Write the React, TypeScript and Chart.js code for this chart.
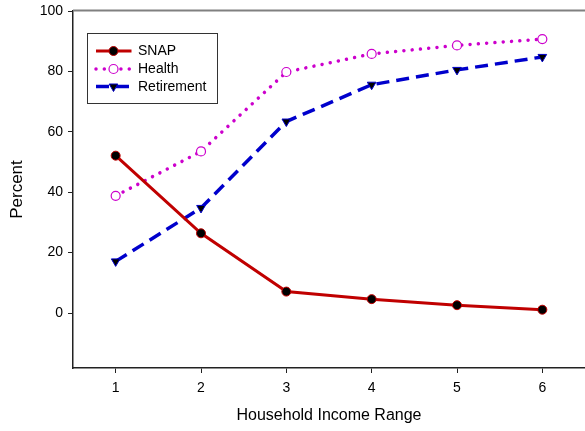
import React, { useEffect, useRef } from 'react';
import { Chart, registerables } from 'chart.js';

Chart.register(...registerables);

const incomeRange = [1, 2, 3, 4, 5, 6];
const snap = [52.1, 26.4, 7.1, 4.6, 2.6, 1.1];
const health = [38.8, 53.5, 79.8, 85.8, 88.6, 90.7];
const retirement = [17.1, 34.8, 63.4, 75.6, 80.5, 84.8];
const yTicks = [0, 20, 40, 60, 80, 100];
const seriesNames = ['SNAP', 'Health', 'Retirement'];
const xTitle = 'Household Income Range';
const yTitle = 'Percent';

const FONT = '"Liberation Sans", Arial, sans-serif';
const RED = '#c00000';
const MAGENTA = '#cc00cc';
const BLUE = '#0000cc';

function drawTriangleDown(ctx: CanvasRenderingContext2D, x: number, y: number, r: number, fill: string, stroke: string) {
  ctx.beginPath();
  for (let i = 0; i < 3; i++) {
    const a = Math.PI + (i * 2 * Math.PI) / 3;
    const px = x + Math.sin(a) * r;
    const py = y - Math.cos(a) * r;
    if (i === 0) ctx.moveTo(px, py);
    else ctx.lineTo(px, py);
  }
  ctx.closePath();
  ctx.fillStyle = fill;
  ctx.fill();
  ctx.lineWidth = 1;
  ctx.strokeStyle = stroke;
  ctx.stroke();
}

const framePlugin = {
  id: 'frameAndLegend',
  afterDraw(chart: any) {
    const { ctx, chartArea } = chart;
    ctx.save();
    // top frame line
    ctx.beginPath();
    ctx.strokeStyle = '#808080';
    ctx.lineWidth = 2;
    ctx.moveTo(chartArea.left, chartArea.top - 0.5);
    ctx.lineTo(chartArea.right, chartArea.top - 0.5);
    ctx.stroke();

    // legend box
    const bx = 87, by = 33, bw = 130, bh = 70;
    ctx.fillStyle = '#fff';
    ctx.fillRect(bx, by, bw, bh);
    ctx.strokeStyle = '#333';
    ctx.lineWidth = 1;
    ctx.strokeRect(bx + 0.5, by + 0.5, bw, bh);

    const rows = [51, 69, 86.5];
    const x0 = 96, x1 = 131.5, xm = 113.5;
    ctx.font = '14px ' + FONT;
    ctx.textBaseline = 'middle';
    ctx.textAlign = 'left';
    seriesNames.forEach((name, i) => {
      const y = rows[i];
      ctx.beginPath();
      if (i === 0) {
        ctx.setLineDash([]);
        ctx.lineCap = 'butt';
        ctx.lineWidth = 3;
        ctx.strokeStyle = RED;
      } else if (i === 1) {
        ctx.setLineDash([0.01, 8.3]);
        ctx.lineCap = 'round';
        ctx.lineWidth = 3.5;
        ctx.strokeStyle = MAGENTA;
      } else {
        ctx.setLineDash([13, 7]);
        ctx.lineCap = 'butt';
        ctx.lineWidth = 3.5;
        ctx.strokeStyle = BLUE;
      }
      ctx.moveTo(x0, y);
      ctx.lineTo(x1, y);
      ctx.stroke();
      ctx.setLineDash([]);
      if (i === 0) {
        ctx.beginPath();
        ctx.arc(xm, y, 4.5, 0, Math.PI * 2);
        ctx.fillStyle = '#000';
        ctx.fill();
        ctx.lineWidth = 1;
        ctx.strokeStyle = RED;
        ctx.stroke();
      } else if (i === 1) {
        ctx.beginPath();
        ctx.arc(xm, y, 4.5, 0, Math.PI * 2);
        ctx.fillStyle = '#fff';
        ctx.fill();
        ctx.lineWidth = 1.2;
        ctx.strokeStyle = MAGENTA;
        ctx.stroke();
      } else {
        drawTriangleDown(ctx, xm, y, 5, '#000', BLUE);
      }
      ctx.fillStyle = '#000';
      ctx.fillText(name, 138, y + 0.5);
    });
    ctx.restore();
  },
};

export default function App() {
  const ref = useRef<HTMLCanvasElement>(null);

  useEffect(() => {
    const canvas = ref.current;
    if (!canvas) return;
    const toPts = (arr: number[]) => arr.map((v, i) => ({ x: incomeRange[i], y: v }));
    const chart = new Chart(canvas, {
      type: 'line',
      data: {
        datasets: [
          {
            label: seriesNames[0],
            data: toPts(snap),
            borderColor: RED,
            borderWidth: 3,
            pointRadius: 4.5,
            pointBackgroundColor: '#000',
            pointBorderColor: RED,
            pointBorderWidth: 1,
            tension: 0,
            order: 1,
          },
          {
            label: seriesNames[1],
            data: toPts(health),
            borderColor: MAGENTA,
            borderWidth: 3.5,
            borderDash: [0.01, 8.3],
            borderCapStyle: 'round',
            pointRadius: 4.5,
            pointBackgroundColor: '#fff',
            pointBorderColor: MAGENTA,
            pointBorderWidth: 1.2,
            tension: 0,
            order: 3,
          },
          {
            label: seriesNames[2],
            data: toPts(retirement),
            borderColor: BLUE,
            borderWidth: 3.5,
            borderDash: [13, 7],
            borderCapStyle: 'butt',
            pointStyle: 'triangle',
            rotation: 180,
            pointRadius: 5,
            pointBackgroundColor: '#000',
            pointBorderColor: BLUE,
            pointBorderWidth: 1,
            tension: 0,
            order: 2,
          },
        ] as any,
      },
      options: {
        responsive: false,
        animation: false,
        devicePixelRatio: 1,
        layout: { autoPadding: false, padding: { top: 11, left: 0, right: 0, bottom: 0 } },
        plugins: {
          legend: { display: false },
          tooltip: { enabled: false },
        },
        scales: {
          x: {
            type: 'linear',
            min: 0.5,
            max: 6.5,
            afterBuildTicks: (s: any) => {
              s.ticks = incomeRange.map((v) => ({ value: v }));
            },
            afterFit: (s: any) => {
              s.height = 63;
              s.paddingLeft = 0;
              s.paddingRight = 0;
            },
            grid: { drawOnChartArea: false, drawTicks: true, tickLength: 5, color: '#222', lineWidth: 1 },
            border: { display: true, color: '#222', width: 1.5 },
            ticks: {
              padding: 7,
              color: '#000',
              font: { family: FONT, size: 14 },
              maxRotation: 0,
              autoSkip: false,
              callback: (v: any) => String(v),
            },
            title: {
              display: true,
              text: xTitle,
              color: '#000',
              font: { family: FONT, size: 16 },
              padding: { top: 0, bottom: 6 },
            },
          },
          y: {
            type: 'linear',
            min: -18.2,
            max: 100,
            afterBuildTicks: (s: any) => {
              s.ticks = yTicks.map((v) => ({ value: v }));
            },
            afterFit: (s: any) => {
              s.width = 73;
              s.paddingTop = 0;
              s.paddingBottom = 0;
            },
            grid: { drawOnChartArea: false, drawTicks: true, tickLength: 5, color: '#222', lineWidth: 1 },
            border: { display: true, color: '#222', width: 1.5 },
            ticks: {
              padding: 5,
              color: '#000',
              font: { family: FONT, size: 14 },
              callback: (v: any) => String(v),
            },
            title: {
              display: true,
              text: yTitle,
              color: '#000',
              font: { family: FONT, size: 17 },
              padding: { top: 7, bottom: 0 },
            },
          },
        },
      } as any,
      plugins: [framePlugin],
    });
    return () => chart.destroy();
  }, []);

  return (
    <div style={{ position: 'fixed', left: 0, top: 0, width: 585, height: 431, background: '#fff' }}>
      <canvas ref={ref} width={585} height={431} style={{ display: 'block', width: 585, height: 431 }} />
    </div>
  );
}
